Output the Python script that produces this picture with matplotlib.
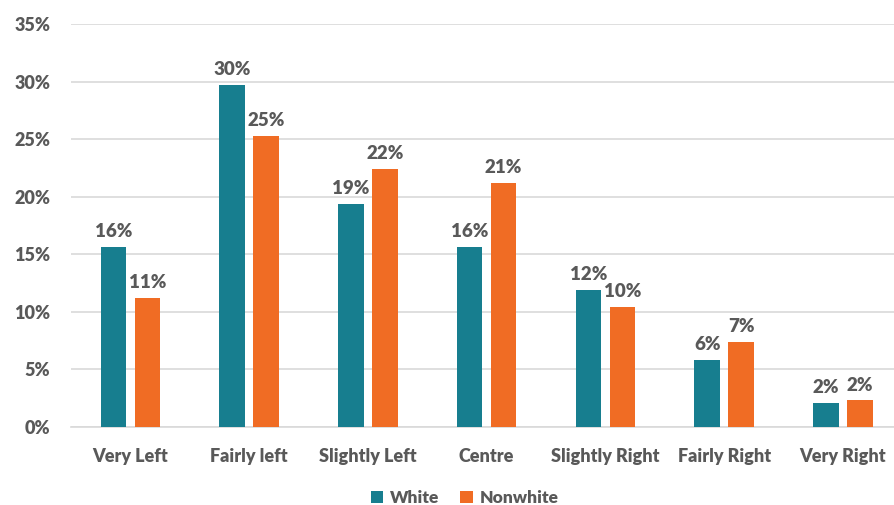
import numpy as np
import matplotlib
matplotlib.use('Agg')
from matplotlib import pyplot as plt

categories = ['Very Left', 'Fairly left', 'Slightly Left', 'Centre',
              'Slightly Right', 'Fairly Right', 'Very Right']
white = [15.6, 29.7, 19.4, 15.6, 11.9, 5.8, 2.1]
nonwhite = [11.2, 25.3, 22.4, 21.2, 10.4, 7.4, 2.3]
yticks = [0, 5, 10, 15, 20, 25, 30, 35]

teal = '#177E8F'
orange = '#F06C24'
grey = '#595959'

plt.rcParams['font.family'] = ['Lato', 'DejaVu Sans']
plt.rcParams['font.weight'] = 'heavy'

fig = plt.figure(figsize=(8.94, 5.05), dpi=100)
ax = fig.add_axes([0.0794, 0.1545, 0.9206, 0.798])

x = np.arange(len(categories))
w = 0.216
off = 0.143
b1 = ax.bar(x - off, white, w, color=teal, label='White', zorder=3)
b2 = ax.bar(x + off, nonwhite, w, color=orange, label='Nonwhite', zorder=3)

for bars in (b1, b2):
    for r in bars:
        h = r.get_height()
        ax.annotate('%d%%' % round(h), (r.get_x() + r.get_width() / 2, h),
                    xytext=(0, 5), textcoords='offset points',
                    ha='center', va='bottom', fontsize=13.5, color=grey,
                    fontweight='heavy')

ax.set_ylim(0, 35)
ax.set_xlim(-0.5, 6.43)
ax.set_yticks(yticks)
ax.set_yticklabels(['%d%%' % t for t in yticks])
ax.set_xticks(x)
ax.set_xticklabels(categories)
ax.tick_params(axis='y', length=0, pad=15, labelsize=13, labelcolor=grey)
ax.tick_params(axis='x', length=0, pad=15, labelsize=13, labelcolor=grey)
ax.yaxis.grid(True, color='#D9D9D9', linewidth=1.2, zorder=0)
for s in ['top', 'right', 'left']:
    ax.spines[s].set_visible(False)
ax.spines['bottom'].set_color('#D9D9D9')
ax.spines['bottom'].set_linewidth(1.2)

fig.legend(handles=[b1, b2], labels=['White', 'Nonwhite'], loc='center',
           bbox_to_anchor=(0.52, 0.014), ncol=2, frameon=False, fontsize=12.5,
           handlelength=0.7, handleheight=0.7, handletextpad=0.4,
           columnspacing=1.2, labelcolor=grey)

plt.savefig('out.png', dpi=100)
